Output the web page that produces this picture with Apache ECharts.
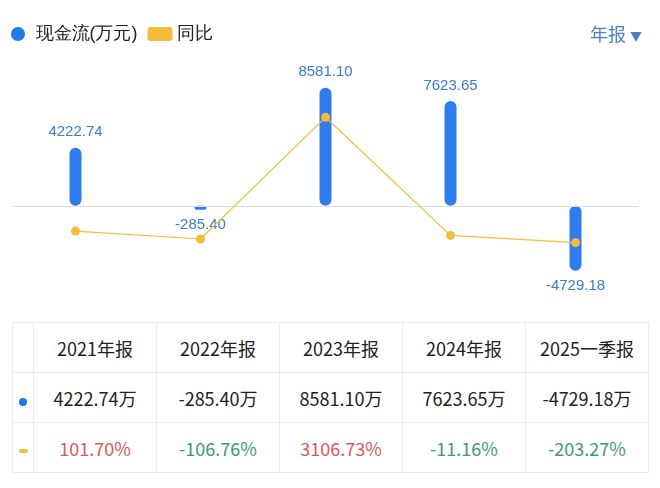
<!DOCTYPE html>
<html><head><meta charset="utf-8">
<script src="https://cdn.jsdelivr.net/npm/echarts@6/dist/echarts.min.js"></script>
<style>
body{margin:0;width:660px;height:488px;background:#fff;font-family:"Noto Sans CJK SC","Noto Sans",sans-serif;position:relative;overflow:hidden}
#c{position:absolute;left:0;top:0;width:660px;height:320px}
#sel{position:absolute;right:18px;top:20px;color:#4a7fc8;font-size:18px}
table{position:absolute;left:12px;top:322px;border-collapse:collapse;font-size:18px;color:#222}
td{border:1px solid #ececec;text-align:center;padding:0}
tr{height:50px}
.r{color:#d9575a}.g{color:#3f9a6e}
</style></head><body>
<div id="c"></div>
<div id="sel">年报 <span style="font-size:12px">▼</span></div>
<table id="t"></table>
<script>
const categories=["2021年报","2022年报","2023年报","2024年报","2025一季报"];
const cashFlow=[4222.74,-285.40,8581.10,7623.65,-4729.18];
const yoy=[101.70,-106.76,3106.73,-11.16,-203.27];
const chart=echarts.init(document.getElementById('c'));
chart.setOption({
 animation:false,
 legend:{left:6,top:20,itemGap:10,textStyle:{fontSize:18,color:'#222'},
  data:[{name:'现金流(万元)',icon:'circle',itemStyle:{color:'#1f7ae8'},itemWidth:10,itemHeight:10},
        {name:'同比',icon:'roundRect',itemStyle:{color:'#f5bc3c'},itemWidth:11,itemHeight:5}]},
 grid:{left:13,right:22,top:60,bottom:18},
 xAxis:{type:'category',data:categories,show:false},
 yAxis:[{type:'value',min:-7000,max:10600,show:false,splitLine:{show:false}},
        {type:'value',min:-1770,max:4620,show:false,splitLine:{show:false}}],
 series:[
  {name:'现金流(万元)',type:'bar',barWidth:12,
   data:cashFlow.map(v=>({value:v,label:{position:v<0?'bottom':'top'}})),
   itemStyle:{color:'#2e7cf0',borderRadius:6},
   label:{show:true,color:'#3a7bd0',fontSize:15,distance:8,formatter:p=>p.value.toFixed(2)},
   markLine:{silent:true,symbol:'none',label:{show:false},lineStyle:{color:'#ddd',type:'solid',width:1},data:[{yAxis:0}]}},
  {name:'同比',type:'line',yAxisIndex:1,data:yoy,symbol:'circle',symbolSize:9,z:5,
   itemStyle:{color:'#f5bc3c'},lineStyle:{color:'#f5bc3c',width:1.2}}
 ]
});
const t=document.getElementById('t');
let h='<tr><td style="width:20px"></td>'+categories.map(c=>`<td style="width:122px">${c}</td>`).join('')+'</tr>';
h+='<tr><td><span style="display:inline-block;width:8px;height:8px;border-radius:50%;background:#1f7ae8"></span></td>'+cashFlow.map(v=>`<td>${v.toFixed(2)}万</td>`).join('')+'</tr>';
h+='<tr><td><span style="display:inline-block;width:9px;height:4px;border-radius:2px;background:#f5bc3c;vertical-align:middle"></span></td>'+yoy.map(v=>`<td class="${v>=0?'r':'g'}">${v.toFixed(2)}%</td>`).join('')+'</tr>';
t.innerHTML=h;
</script></body></html>
